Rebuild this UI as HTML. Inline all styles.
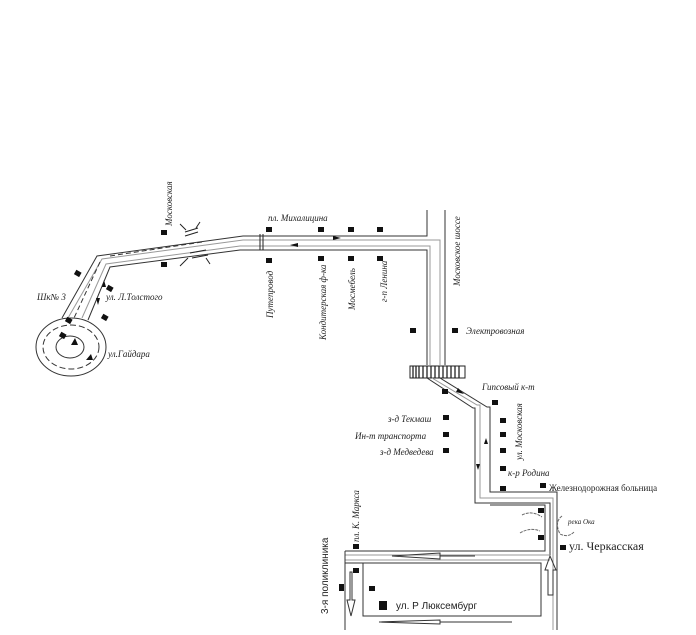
<!DOCTYPE html>
<html><head><meta charset="utf-8"><style>
html,body{margin:0;padding:0;background:#fff;width:696px;height:635px;overflow:hidden}
svg text{font-family:"Liberation Serif",serif;font-style:italic;fill:#222}
svg text.n{font-style:normal}
svg text.s{font-style:normal;font-family:"Liberation Sans",sans-serif}
</style></head><body>
<svg width="696" height="635" viewBox="0 0 696 635" xmlns="http://www.w3.org/2000/svg">
<g fill="none" stroke="#333" stroke-width="1">
<polyline points="427,210 427,236 243,236 97,256 62,318"/>
<polyline points="440,365 440,240 243,240 102,259 68,318" stroke="#999"/>
<polyline points="430,365 430,246 240,246 106,264 82,318" stroke="#999"/>
<polyline points="427,365 427,250 240,250 110,267 88,320"/>
<line x1="445" y1="210" x2="445" y2="365"/>
<line x1="202" y1="242" x2="110" y2="256" stroke-dasharray="5,3"/>
<line x1="100" y1="262" x2="74" y2="318" stroke-dasharray="5,3"/>
<ellipse cx="71" cy="347" rx="35" ry="29"/>
<ellipse cx="71" cy="347" rx="28" ry="22" stroke-dasharray="6,3"/>
<ellipse cx="70" cy="347" rx="14" ry="11"/>
<g stroke="#222">
<line x1="185" y1="232" x2="198" y2="228"/><line x1="185" y1="236" x2="198" y2="232"/>
<line x1="190" y1="253" x2="206" y2="250"/><line x1="192" y1="258" x2="208" y2="255"/>
<line x1="180" y1="224" x2="186" y2="230"/><line x1="200" y1="222" x2="196" y2="228"/>
<line x1="180" y1="266" x2="188" y2="258"/><line x1="210" y1="264" x2="206" y2="258"/>
<line x1="260" y1="234" x2="260" y2="250"/><line x1="263" y1="234" x2="263" y2="250"/>
</g>
<rect x="410" y="366" width="55" height="12" stroke="#222"/>
<g stroke="#222" stroke-width="1.3">
<line x1="413" y1="366" x2="413" y2="378"/><line x1="416" y1="366" x2="416" y2="378"/><line x1="419" y1="366" x2="419" y2="378"/>
<line x1="423" y1="366" x2="423" y2="378"/><line x1="427" y1="366" x2="427" y2="378"/><line x1="431" y1="366" x2="431" y2="378"/>
<line x1="435" y1="366" x2="435" y2="378"/><line x1="439" y1="366" x2="439" y2="378"/><line x1="443" y1="366" x2="443" y2="378"/>
<line x1="447" y1="366" x2="447" y2="378"/><line x1="451" y1="366" x2="451" y2="378"/><line x1="455" y1="366" x2="455" y2="378"/>
<line x1="459" y1="366" x2="459" y2="378"/>
</g>
<polyline points="427,378 473,408 475,408 475,503 550,503 550,555"/>
<polyline points="432,378 477,405 480,405 480,498 553,498 553,630" stroke="#999"/>
<polyline points="440,378 487,407 490,407 490,492 557,492 557,630"/>
<polyline points="490,505 545,505 545,551 345,551"/>
<line x1="345" y1="555" x2="550" y2="555" stroke="#999"/>
<line x1="345" y1="560" x2="550" y2="560" stroke="#999"/>
<polyline points="345,551 345,630"/>
<polyline points="345,563 541,563 541,616 363,616 363,563"/>
<path d="M522,515 q10,-5 20,2 M520,533 q10,-6 20,-2 M562,516 q-8,6 -2,18 q8,4 14,-2" stroke="#666" stroke-dasharray="3,1"/>
<path d="M392,556 L440,553 L440,559 Z M440,556 L475,556" stroke="#333"/>
<path d="M379,622 L440,620 L440,624 Z M440,622 L512,622" stroke="#333"/>
<path d="M548,570 L548,595 L553,595 L553,570 L556,570 L550,556 L545,570 Z"/>
<path d="M350,572 L350,600 L347,600 L351,616 L355,600 L352,600 L352,572 Z"/>
</g>
<g fill="#111">
<polygon points="290,245 298,243 298,247"/>
<polygon points="341,238 333,236 333,240"/>
<polygon points="464,394 458,388 456,392"/>
<polygon points="486,438 484,444 488,444"/>
<polygon points="478,470 476,464 480,464"/>
<polygon points="98,305 96,298 100,298"/>
<polygon points="104,280 102,287 106,287"/>
<polygon points="75,338 71,345 78,345"/>
<polygon points="91,354 86,360 93,360"/>
</g>
<g fill="#111">
<rect x="161" y="230" width="6" height="5"/><rect x="161" y="262" width="6" height="5"/>
<rect x="266" y="227" width="6" height="5"/><rect x="266" y="258" width="6" height="5"/>
<rect x="318" y="227" width="6" height="5"/><rect x="318" y="256" width="6" height="5"/>
<rect x="348" y="227" width="6" height="5"/><rect x="348" y="256" width="6" height="5"/>
<rect x="377" y="227" width="6" height="5"/><rect x="377" y="256" width="6" height="5"/>
<rect x="410" y="328" width="6" height="5"/><rect x="452" y="328" width="6" height="5"/>
<rect x="442" y="389" width="6" height="5"/><rect x="443" y="415" width="6" height="5"/>
<rect x="443" y="432" width="6" height="5"/><rect x="443" y="448" width="6" height="5"/>
<rect x="492" y="400" width="6" height="5"/><rect x="500" y="418" width="6" height="5"/>
<rect x="500" y="432" width="6" height="5"/><rect x="500" y="448" width="6" height="5"/>
<rect x="500" y="466" width="6" height="5"/><rect x="500" y="486" width="6" height="5"/>
<rect x="540" y="483" width="6" height="5"/><rect x="538" y="508" width="6" height="5"/>
<rect x="538" y="535" width="6" height="5"/><rect x="560" y="545" width="6" height="5"/>
<rect x="353" y="544" width="6" height="5"/><rect x="353" y="568" width="6" height="5"/>
<rect x="339" y="584" width="5" height="7"/><rect x="369" y="586" width="6" height="5"/>
<rect x="379" y="601" width="8" height="9"/>
<rect x="75" y="271" width="6" height="5" transform="rotate(30 78 273)"/>
<rect x="66" y="318" width="6" height="5" transform="rotate(30 69 320)"/>
<rect x="60" y="333" width="6" height="5" transform="rotate(30 63 335)"/>
<rect x="107" y="286" width="6" height="5" transform="rotate(30 110 288)"/>
<rect x="102" y="315" width="6" height="5" transform="rotate(30 105 317)"/>
</g>
<g font-size="9">
<text x="268" y="221">пл. Михалицина</text>
<text x="466" y="334">Электровозная</text>
<text x="482" y="390">Гипсовый к-т</text>
<text x="388" y="422">з-д Текмаш</text>
<text x="355" y="439">Ин-т транспорта</text>
<text x="380" y="455">з-д Медведева</text>
<text x="508" y="476">к-р Родина</text>
<text x="37" y="300">Шк№ 3</text>
<text x="106" y="300">ул. Л.Толстого</text>
<text x="108" y="357">ул.Гайдара</text>
<text x="568" y="524" font-size="7">река Ока</text>
<text transform="translate(172,226) rotate(-90)">Московская</text>
<text transform="translate(273,318) rotate(-90)">Путепровод</text>
<text transform="translate(326,340) rotate(-90)">Кондитерская ф-ка</text>
<text transform="translate(355,310) rotate(-90)">Мосмебель</text>
<text transform="translate(387,302) rotate(-90)">г-п Ленина</text>
<text transform="translate(460,286) rotate(-90)">Московское шоссе</text>
<text transform="translate(522,460) rotate(-90)">ул. Московская</text>
<text transform="translate(359,542) rotate(-90)">пл. К. Маркса</text>
</g>
<text class="n" x="549" y="491" font-size="9">Железнодорожная больница</text>
<text class="n" x="569" y="550" font-size="12">ул. Черкасская</text>
<text class="s" x="396" y="609" font-size="10">ул. Р Люксембург</text>
<text class="s" transform="translate(328,614) rotate(-90)" font-size="10">3-я поликлиника</text>
</svg>
</body></html>
